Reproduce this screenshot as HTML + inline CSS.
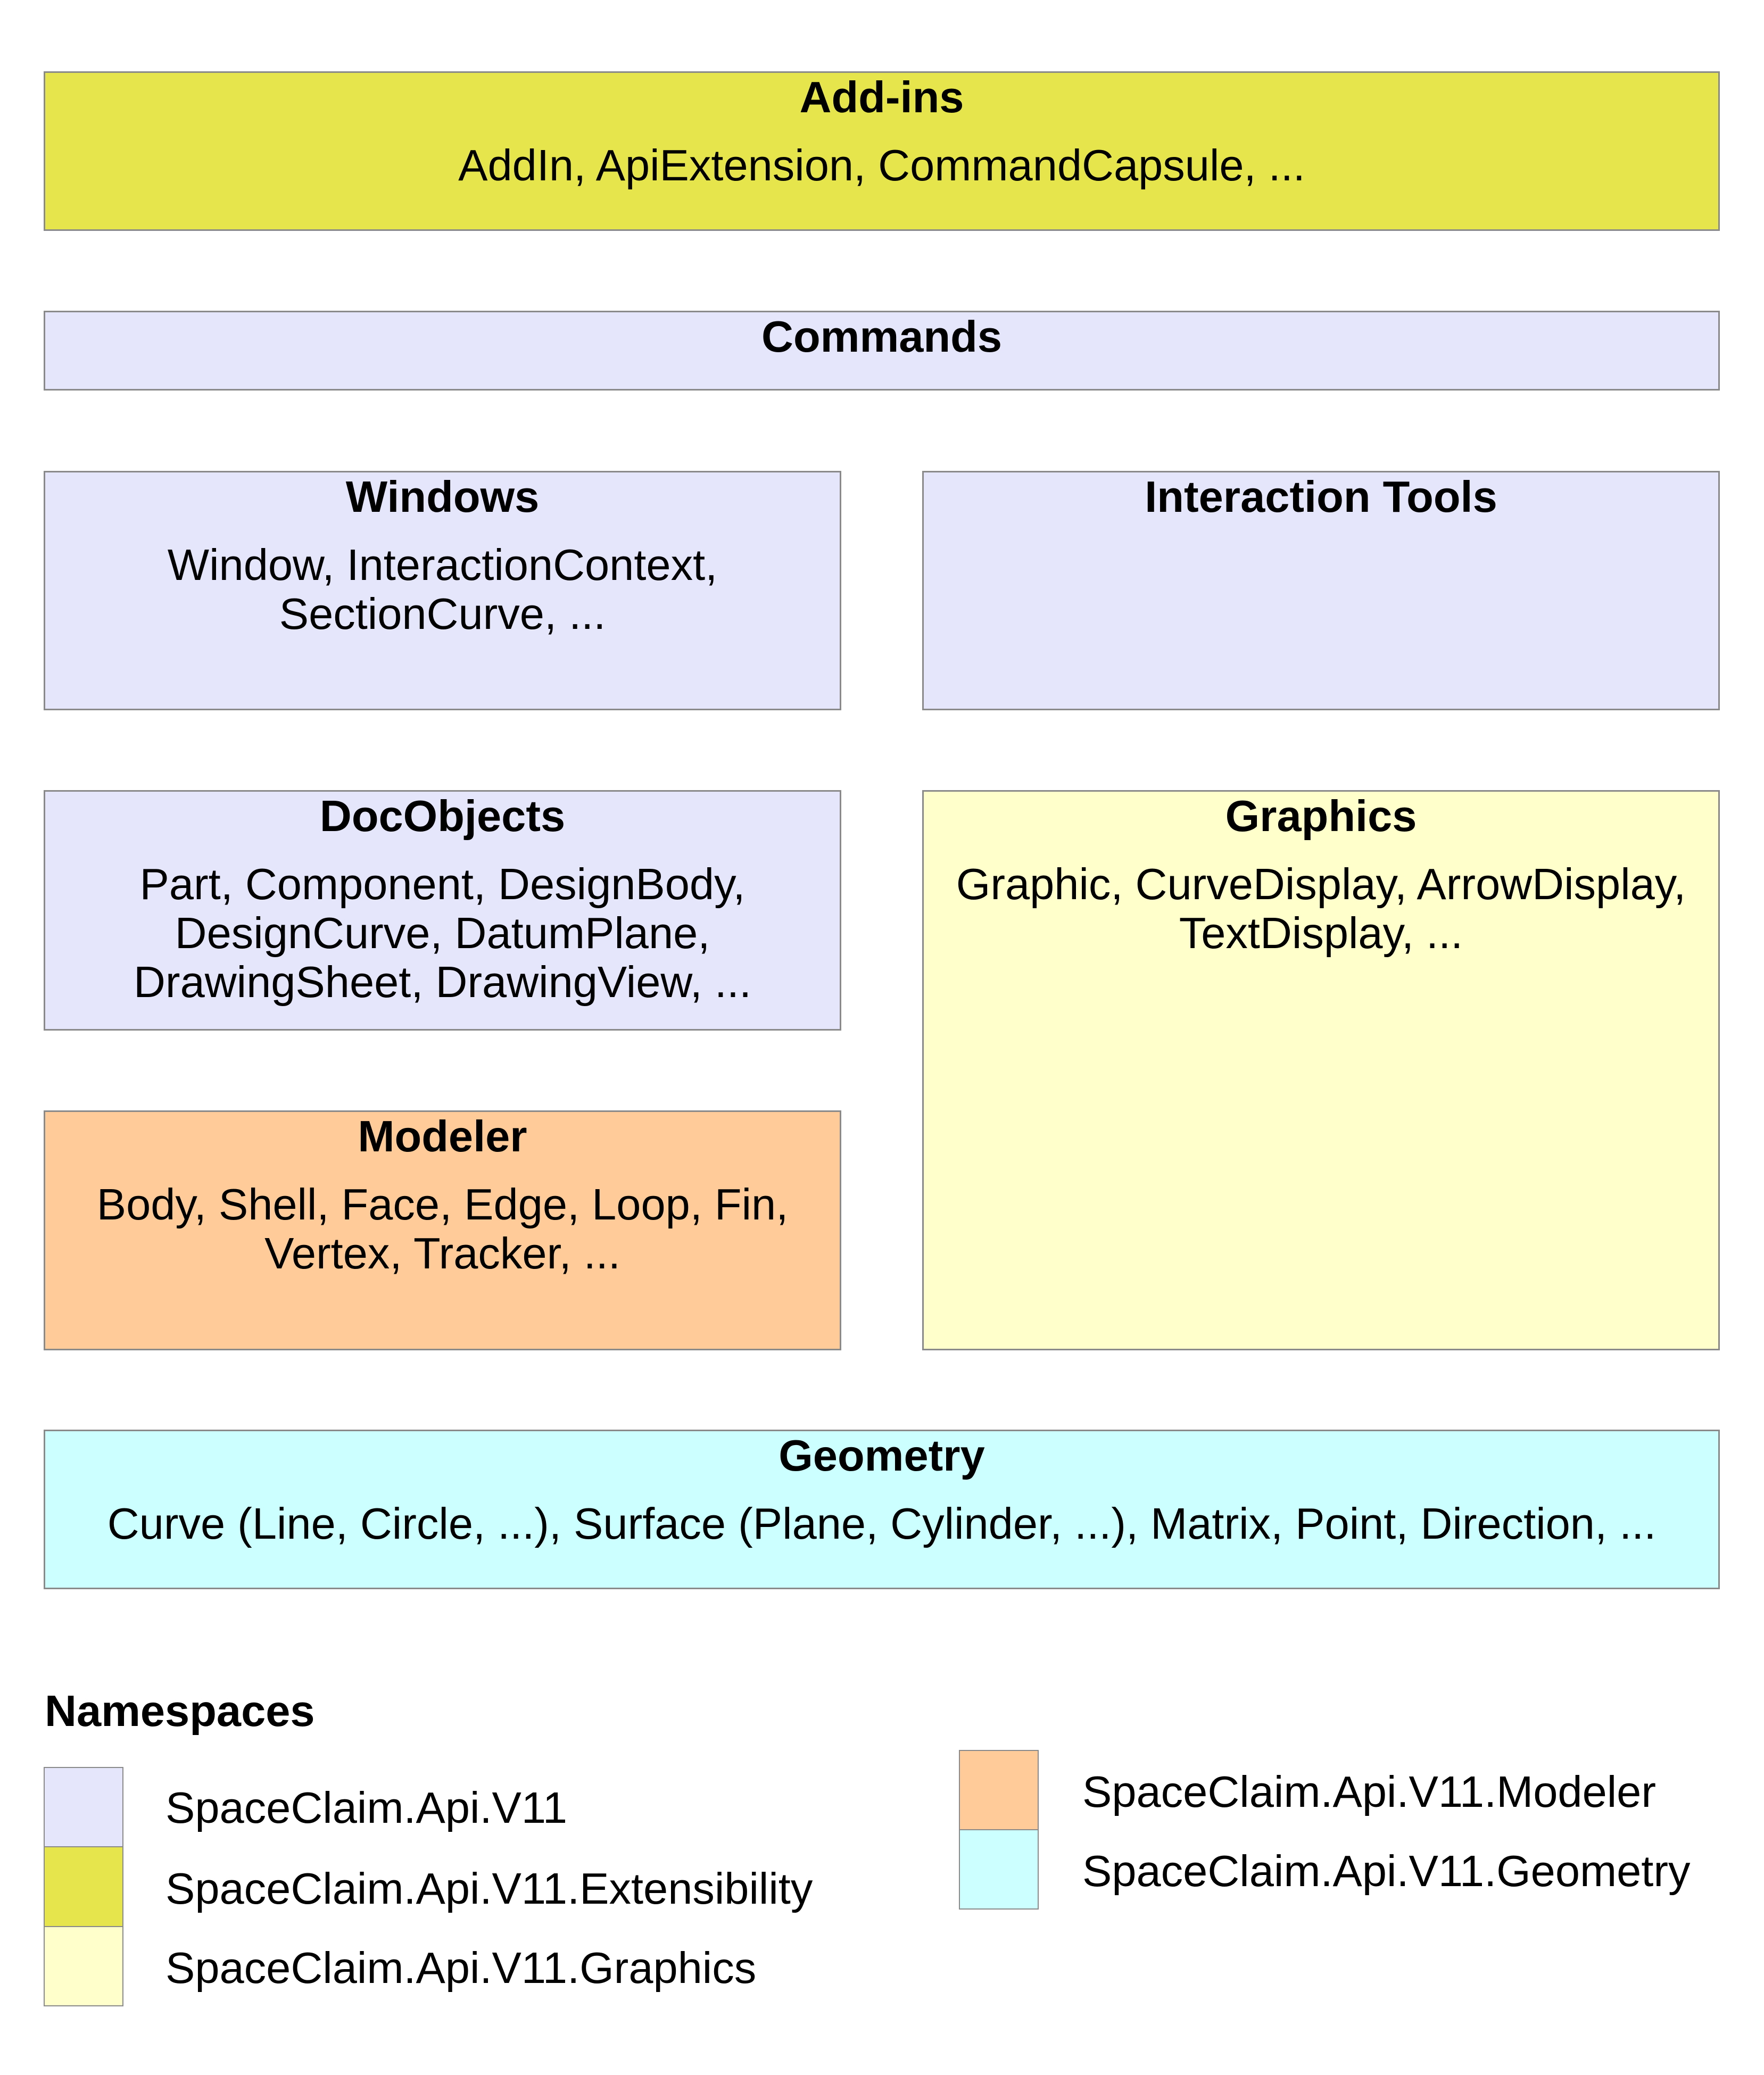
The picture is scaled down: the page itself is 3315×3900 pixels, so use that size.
<!DOCTYPE html>
<html><head><meta charset="utf-8"><style>
body{margin:0;width:3315px;height:3900px;background:#fff;position:relative;font-family:"Liberation Sans",Arial,sans-serif;overflow:hidden}
.b{position:absolute;box-sizing:border-box;border:3px solid #8a8a8a;text-align:center;font-size:83px;line-height:92px;color:#000}
.t{position:absolute;left:0;right:0;top:0px;font-weight:bold}
.s{position:absolute;left:0;right:0;top:128px}
.l{background:#e5e5fb}
.sw{position:absolute;box-sizing:border-box;width:150px;border:2px solid #8a8a8a}
.lt{position:absolute;font-size:83px;line-height:92px;white-space:nowrap}
</style></head><body>
<div class="b" style="left:82px;top:134px;width:3150px;height:300px;background:#e6e64c"><div class="t">Add-ins</div><div class="s">AddIn, ApiExtension, CommandCapsule, ...</div></div>
<div class="b l" style="left:82px;top:584px;width:3150px;height:150px"><div class="t">Commands</div></div>
<div class="b l" style="left:82px;top:885px;width:1499px;height:450px"><div class="t">Windows</div><div class="s">Window, InteractionContext,<br>SectionCurve, ...</div></div>
<div class="b l" style="left:1733px;top:885px;width:1499px;height:450px"><div class="t">Interaction Tools</div></div>
<div class="b l" style="left:82px;top:1485px;width:1499px;height:452px"><div class="t">DocObjects</div><div class="s">Part, Component, DesignBody,<br>DesignCurve, DatumPlane,<br>DrawingSheet, DrawingView, ...</div></div>
<div class="b" style="left:1733px;top:1485px;width:1499px;height:1053px;background:#ffffcc"><div class="t">Graphics</div><div class="s">Graphic, CurveDisplay, ArrowDisplay,<br>TextDisplay, ...</div></div>
<div class="b" style="left:82px;top:2087px;width:1499px;height:451px;background:#ffcc99"><div class="t">Modeler</div><div class="s">Body, Shell, Face, Edge, Loop, Fin,<br>Vertex, Tracker, ...</div></div>
<div class="b" style="left:82px;top:2687px;width:3150px;height:300px;background:#ccffff"><div class="t">Geometry</div><div class="s">Curve (Line, Circle, ...), Surface (Plane, Cylinder, ...), Matrix, Point, Direction, ...</div></div>
<div class="lt" style="left:84px;top:3170px;font-weight:bold">Namespaces</div>
<div class="sw" style="left:82px;top:3321px;height:151px;background:#e5e5fb"></div>
<div class="sw" style="left:82px;top:3470px;height:152px;background:#e6e64c"></div>
<div class="sw" style="left:82px;top:3620px;height:151px;background:#ffffcc"></div>
<div class="sw" style="left:1802px;top:3289px;height:151px;background:#ffcc99"></div>
<div class="sw" style="left:1802px;top:3438px;height:151px;background:#ccffff"></div>
<div class="lt" style="left:311px;top:3352px">SpaceClaim.Api.V11</div>
<div class="lt" style="left:311px;top:3504px">SpaceClaim.Api.V11.Extensibility</div>
<div class="lt" style="left:311px;top:3653px">SpaceClaim.Api.V11.Graphics</div>
<div class="lt" style="left:2034px;top:3322px">SpaceClaim.Api.V11.Modeler</div>
<div class="lt" style="left:2034px;top:3471px">SpaceClaim.Api.V11.Geometry</div>
</body></html>
